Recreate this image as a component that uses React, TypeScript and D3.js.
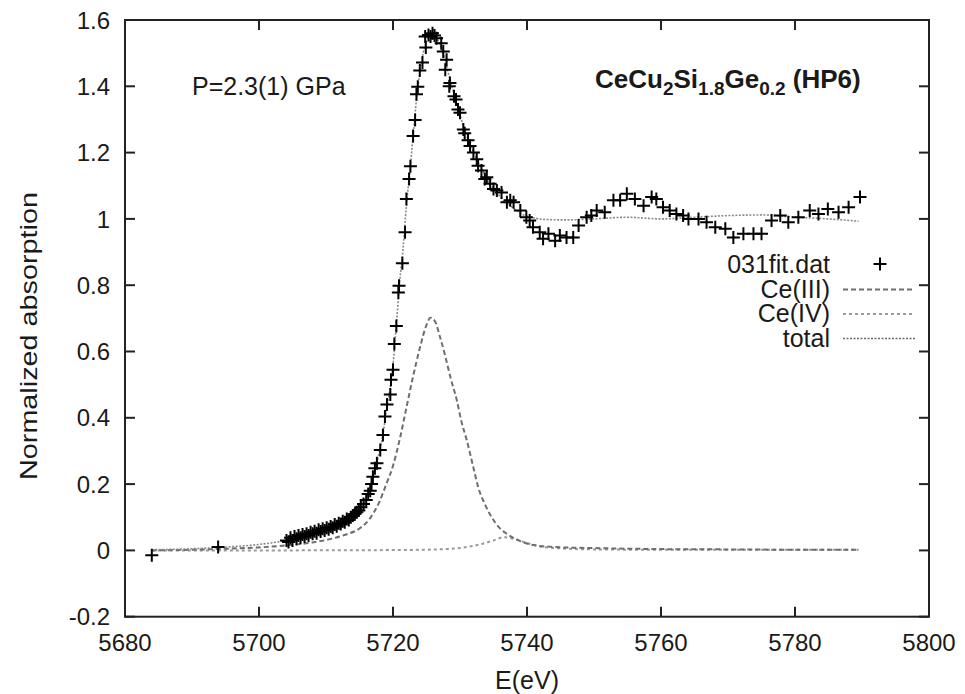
import React from 'react';
import * as d3 from 'd3';

// ---------- data ----------
const xTicks = [5680, 5700, 5720, 5740, 5760, 5780, 5800];
const xTickLabels = ['5680', '5700', '5720', '5740', '5760', '5780', '5800'];
const yTicks = [-0.2, 0, 0.2, 0.4, 0.6, 0.8, 1, 1.2, 1.4, 1.6];
const yTickLabels = ['-0.2', '0', '0.2', '0.4', '0.6', '0.8', '1', '1.2', '1.4', '1.6'];

// measured points "031fit.dat"
const dataE = [
  5684.0, 5693.9,
  5704.1, 5704.4, 5704.7, 5705.0, 5705.3, 5705.6, 5705.9, 5706.2, 5706.5, 5706.8,
  5707.1, 5707.4, 5707.7, 5708.0, 5708.3, 5708.6, 5708.9, 5709.2, 5709.5, 5709.8,
  5710.1, 5710.4, 5710.7, 5711.0, 5711.3, 5711.6, 5711.9, 5712.2, 5712.5, 5712.8,
  5713.1, 5713.4, 5713.7, 5714.0, 5714.3, 5714.6, 5714.9, 5715.2, 5715.6, 5716.0,
  5716.3, 5716.6, 5716.8, 5717.0, 5717.3, 5717.6, 5718.1, 5718.5, 5718.8, 5719.1,
  5719.6, 5719.7, 5720.0, 5720.2, 5720.5, 5720.8, 5720.9, 5721.4, 5721.8, 5722.0,
  5722.4, 5722.6, 5723.0, 5723.3, 5723.5, 5723.7, 5724.0, 5724.4, 5724.9, 5724.8,
  5725.3, 5725.6, 5725.9, 5726.2, 5726.5, 5727.2, 5727.5, 5727.8, 5728.0, 5728.4,
  5728.5, 5729.1, 5729.4, 5729.7, 5730.0, 5730.5, 5730.7, 5731.2, 5731.5, 5732.0,
  5732.5, 5732.7, 5733.2, 5733.7, 5734.0, 5734.5, 5735.0, 5735.5, 5736.2, 5737.0,
  5737.5, 5738.0, 5739.0, 5739.9, 5740.4, 5740.9, 5741.9, 5742.4, 5743.2, 5744.2,
  5744.9, 5745.9, 5746.9, 5747.7, 5748.9, 5749.6, 5750.4, 5751.6, 5752.9, 5753.9,
  5754.9, 5756.1, 5757.4, 5758.6, 5759.3, 5760.3, 5761.3, 5762.3, 5763.3, 5764.1,
  5765.6, 5766.8, 5768.1, 5769.6, 5770.8, 5772.3, 5773.8, 5775.0, 5776.5, 5777.8,
  5779.0, 5780.5, 5782.2, 5783.5, 5784.9, 5786.5, 5788.0, 5789.7,
];
const dataMu = [
  -0.015, 0.01,
  0.03, 0.025, 0.038, 0.03, 0.042, 0.035, 0.045, 0.038, 0.048, 0.042,
  0.05, 0.045, 0.055, 0.05, 0.058, 0.052, 0.062, 0.057, 0.065, 0.06,
  0.068, 0.064, 0.072, 0.068, 0.078, 0.073, 0.082, 0.08, 0.088, 0.085,
  0.095, 0.092, 0.1, 0.105, 0.11, 0.115, 0.12, 0.13, 0.14, 0.152,
  0.17, 0.18, 0.2, 0.222, 0.248, 0.263, 0.303, 0.348, 0.404, 0.44,
  0.47, 0.515, 0.545, 0.623, 0.677, 0.778, 0.798, 0.866, 0.96, 1.06,
  1.12, 1.159, 1.25, 1.298, 1.376, 1.399, 1.448, 1.472, 1.517, 1.55,
  1.555, 1.55, 1.56, 1.553, 1.545, 1.53, 1.505, 1.45, 1.48, 1.4,
  1.41, 1.37, 1.36, 1.33, 1.32, 1.27, 1.258, 1.237, 1.22, 1.2,
  1.18, 1.16, 1.146, 1.12, 1.126, 1.106, 1.09, 1.086, 1.08, 1.05,
  1.056, 1.05, 1.025, 1.005, 0.995, 0.975, 0.96, 0.94, 0.955, 0.934,
  0.95, 0.944, 0.944, 0.98, 1.005, 1.01, 1.025, 1.02, 1.056, 1.056,
  1.076, 1.06, 1.04, 1.066, 1.06, 1.035, 1.025, 1.015, 1.01, 1.0,
  1.0, 0.99, 0.975, 0.97, 0.944, 0.955, 0.955, 0.955, 0.995, 1.01,
  0.99, 1.005, 1.025, 1.015, 1.03, 1.02, 1.035, 1.066,
];

// Ce(III) component
const ce3E = [
  5684, 5690, 5695, 5700, 5704, 5708, 5711, 5713, 5715, 5716.5, 5718, 5719, 5720,
  5721, 5722, 5723, 5724, 5725, 5725.6, 5726.3, 5727, 5727.8, 5728.6, 5729.5, 5730.2,
  5731, 5732, 5732.7, 5733.7, 5734.7, 5735.8, 5737, 5739, 5741, 5744.4, 5750, 5760,
  5770, 5780, 5789.5,
];
const ce3Y = [
  0.0, 0.002, 0.005, 0.009, 0.015, 0.024, 0.036, 0.048, 0.066, 0.095, 0.148, 0.2, 0.255,
  0.335, 0.43, 0.525, 0.61, 0.68, 0.702, 0.69, 0.645, 0.586, 0.52, 0.455, 0.39,
  0.333, 0.25, 0.192, 0.14, 0.101, 0.07, 0.05, 0.028, 0.016, 0.01, 0.007, 0.004,
  0.003, 0.002, 0.002,
];

// Ce(IV) component
const ce4E = [5684, 5700, 5720, 5728, 5731, 5733, 5735, 5736.5, 5738, 5740, 5742, 5745, 5750, 5760, 5789.5];
const ce4Y = [0.0, 0.0, 0.001, 0.004, 0.01, 0.018, 0.03, 0.04, 0.035, 0.022, 0.012, 0.006, 0.003, 0.002, 0.002];

// total fit
const totalE = [
  5684, 5690, 5695, 5700, 5704, 5708, 5711, 5713, 5715, 5716, 5717, 5718, 5718.5, 5719,
  5719.5, 5720, 5720.5, 5721, 5721.5, 5722, 5722.5, 5723, 5723.5, 5724, 5724.5, 5725,
  5725.7, 5726.5, 5727.5, 5728.5, 5729.5, 5730.5, 5731.5, 5732.5, 5733.5, 5734.5,
  5735.5, 5736.5, 5737.5, 5738.5, 5739.5, 5741, 5743, 5746, 5750, 5755, 5760, 5765,
  5770, 5775, 5780, 5785, 5789.5,
];
const totalY = [
  0.002, 0.005, 0.01, 0.018, 0.03, 0.05, 0.072, 0.092, 0.122, 0.155, 0.22, 0.3, 0.35, 0.42,
  0.48, 0.56, 0.68, 0.81, 0.91, 1.04, 1.14, 1.25, 1.36, 1.44, 1.5, 1.535,
  1.555, 1.545, 1.5, 1.42, 1.35, 1.28, 1.225, 1.18, 1.14, 1.105,
  1.08, 1.055, 1.04, 1.025, 1.012, 1.003, 0.998, 0.997, 1.0, 1.005, 1.0, 1.005,
  1.01, 1.012, 1.005, 1.0, 0.993,
];

const legendLabels = ['031fit.dat', 'Ce(III)', 'Ce(IV)', 'total'];

// ---------- chart ----------
const W = 965;
const H = 694;
const L = 125;
const R = 929;
const T = 20;
const B = 616.7;

const FONT = '"Liberation Sans", Arial, Helvetica, sans-serif';

export default function App() {
  const x = d3.scaleLinear().domain([5680, 5800]).range([L, R]);
  const y = d3.scaleLinear().domain([-0.2, 1.6]).range([B, T]);

  const mk = (es: number[], vs: number[]) =>
    d3
      .line<number>()
      .x((_, i) => x(es[i]))
      .y((v) => y(v))
      .curve(d3.curveMonotoneX)(vs) || '';

  const ce3Path = mk(ce3E, ce3Y);
  const ce4Path = mk(ce4E, ce4Y);
  const totPath = mk(totalE, totalY);

  const tickLen = 10;
  const plus = (cx: number, cy: number, k: string | number) => (
    <path
      key={k}
      d={`M${cx - 6.5},${cy}H${cx + 6.5}M${cx},${cy - 6.5}V${cy + 6.5}`}
      stroke="#000"
      strokeWidth={2}
      fill="none"
    />
  );

  const legX0 = 843;
  const legX1 = 915;
  const legTextX = 830;
  const legBase = [273, 297.5, 322, 346.5];

  return (
    <div style={{ position: 'absolute', left: 0, top: 0 }}>
      <svg width={W} height={H} viewBox={`0 0 ${W} ${H}`} style={{ display: 'block', background: '#fff' }}>
        <defs>
          <clipPath id="plotclip">
            <rect x={L} y={T} width={R - L} height={B - T} />
          </clipPath>
        </defs>
        <rect x={0} y={0} width={W} height={H} fill="#fff" />

        {/* ticks */}
        <g stroke="#222" strokeWidth={2}>
          {xTicks.map((t) => (
            <g key={'xt' + t}>
              <line x1={x(t)} x2={x(t)} y1={B} y2={B - tickLen} />
              <line x1={x(t)} x2={x(t)} y1={T} y2={T + tickLen} />
            </g>
          ))}
          {yTicks.map((t) => (
            <g key={'yt' + t}>
              <line x1={L} x2={L + tickLen} y1={y(t)} y2={y(t)} />
              <line x1={R} x2={R - tickLen} y1={y(t)} y2={y(t)} />
            </g>
          ))}
        </g>

        {/* tick labels */}
        <g fontFamily={FONT} fontSize={24} fill="#1a1a1a">
          {xTicks.map((t, i) => (
            <text key={'xl' + t} x={x(t)} y={651} textAnchor="middle">
              {xTickLabels[i]}
            </text>
          ))}
          {yTicks.map((t, i) => (
            <text key={'yl' + t} x={110} y={y(t)} dy="0.36em" textAnchor="end">
              {yTickLabels[i]}
            </text>
          ))}
        </g>

        {/* axis titles */}
        <text x={(L + R) / 2} y={689} textAnchor="middle" fontFamily={FONT} fontSize={25} fill="#1a1a1a">
          E(eV)
        </text>
        <text
          transform={`translate(37,336) rotate(-90)`}
          textAnchor="middle"
          fontFamily={FONT}
          fontSize={24}
          fill="#1a1a1a"
          textLength={288}
          lengthAdjust="spacingAndGlyphs"
        >
          Normalized absorption
        </text>

        {/* annotations */}
        <text x={192} y={95} fontFamily={FONT} fontSize={25} fill="#1a1a1a">
          P=2.3(1) GPa
        </text>
        <text x={595} y={88} fontFamily={FONT} fontSize={26} fontWeight="bold" fill="#1a1a1a">
          CeCu
          <tspan fontSize={19} dy={7}>2</tspan>
          <tspan dy={-7}>Si</tspan>
          <tspan fontSize={19} dy={7}>1.8</tspan>
          <tspan dy={-7}>Ge</tspan>
          <tspan fontSize={19} dy={7}>0.2</tspan>
          <tspan dy={-7}> (HP6)</tspan>
        </text>

        {/* fit curves */}
        <g clipPath="url(#plotclip)" fill="none">
          <path d={ce4Path} stroke="#9a9a9a" strokeWidth={2} strokeDasharray="3 3" />
          <path d={ce3Path} stroke="#6e6e6e" strokeWidth={2} strokeDasharray="5 3" />
          <path d={totPath} stroke="#8a8a8a" strokeWidth={1.6} strokeDasharray="2 1.5" />
        </g>

        {/* data points */}
        <g clipPath="url(#plotclip)">{dataE.map((e, i) => plus(x(e), y(dataMu[i]), i))}</g>

        {/* legend */}
        <g fontFamily={FONT} fontSize={25} fill="#1a1a1a">
          {legendLabels.map((lab, i) => (
            <text key={lab} x={legTextX} y={legBase[i]} textAnchor="end">
              {lab}
            </text>
          ))}
        </g>
        {plus((legX0 + legX1) / 2 + 1, legBase[0] - 9, 'legplus')}
        <line x1={legX0} x2={legX1} y1={legBase[1] - 8} y2={legBase[1] - 8} stroke="#6e6e6e" strokeWidth={2} strokeDasharray="5 3" />
        <line x1={legX0} x2={legX1} y1={legBase[2] - 8} y2={legBase[2] - 8} stroke="#9a9a9a" strokeWidth={2} strokeDasharray="3 3" />
        <line x1={legX0} x2={legX1} y1={legBase[3] - 8} y2={legBase[3] - 8} stroke="#6a6a6a" strokeWidth={1.6} strokeDasharray="2 1.5" />

        {/* frame */}
        <rect x={L} y={T} width={R - L} height={B - T} fill="none" stroke="#222" strokeWidth={2} />
      </svg>
    </div>
  );
}
